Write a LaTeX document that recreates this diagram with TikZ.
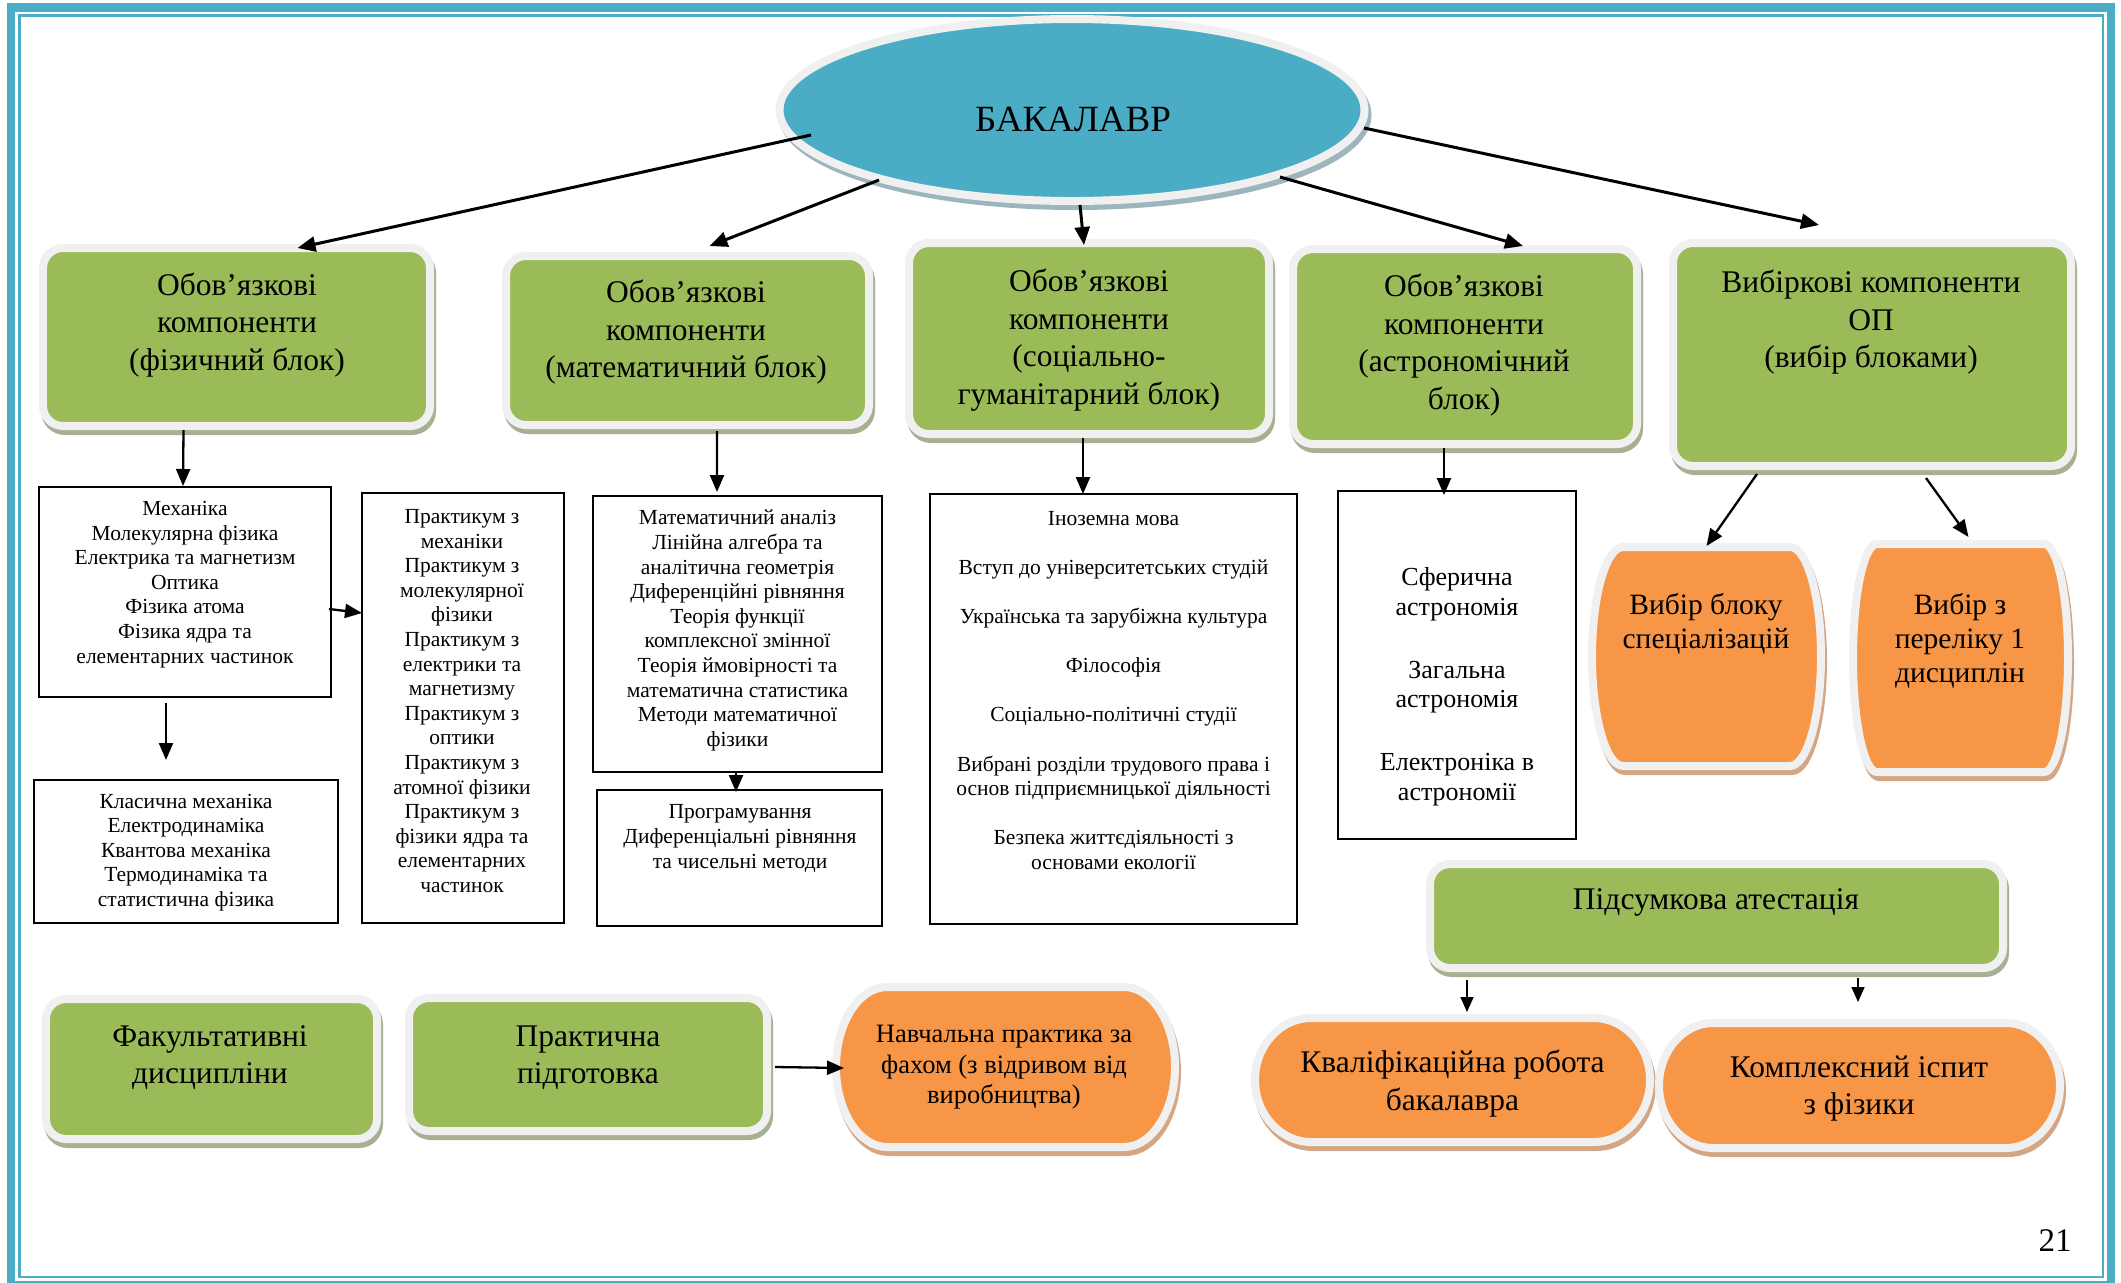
\documentclass[tikz,border=0pt]{standalone}
\usepackage{fontspec}
\setmainfont{Liberation Serif}
\usetikzlibrary{calc,arrows.meta,shapes.geometric}
\definecolor{gfill}{HTML}{9BBB59}
\definecolor{ofill}{HTML}{F79646}
\definecolor{bfill}{HTML}{4BACC6}
\definecolor{rim}{HTML}{F0F0F0}
\definecolor{gshad}{HTML}{A7B093}
\definecolor{oshad}{HTML}{D4A684}
\definecolor{bshad}{HTML}{9DB5BD}
\definecolor{framec}{HTML}{4BACC6}

\newcommand\barrel[6]{% cx cy w h a colourprefix
  \pgfmathsetmacro\bxa{#1-#3/2-4}%
  \pgfmathsetmacro\bxb{#1+#3/2+4}%
  \pgfmathsetmacro\bya{#2-#4/2-4}%
  \pgfmathsetmacro\byb{#2+#4/2+4}%
  \pgfmathsetmacro\bpa{\bxa+#5+4}%
  \pgfmathsetmacro\bpb{\bxb-#5-4}%
  \pgfmathsetmacro\bca{\bpa-0.55*(#5+4)}%
  \pgfmathsetmacro\bcb{\bpb+0.55*(#5+4)}%
  \pgfmathsetmacro\byu{#2-0.55*(#4/2+4)}%
  \pgfmathsetmacro\byd{#2+0.55*(#4/2+4)}%
  \def\bpath{(\bpa,\bya) -- (\bpb,\bya) .. controls (\bcb,\bya) and (\bxb,\byu) .. (\bxb,#2) .. controls (\bxb,\byd) and (\bcb,\byb) .. (\bpb,\byb) -- (\bpa,\byb) .. controls (\bca,\byb) and (\bxa,\byd) .. (\bxa,#2) .. controls (\bxa,\byu) and (\bca,\bya) .. (\bpa,\bya) -- cycle}%
  \path[fill=#6shad, draw=#6shad, line width=8bp, transform canvas={xshift=2bp,yshift=-5bp}] \bpath;
  \path[fill=#6fill, draw=rim, line width=8bp] \bpath;
}

\begin{document}
\begin{tikzpicture}[x=1bp,y=-1bp,
  every node/.style={inner sep=0pt, outer sep=0pt},
  gbox/.style={rectangle, rounded corners=20bp, fill=gfill, draw=rim, line width=8bp,
    preaction={fill=gshad, draw=gshad, line width=8bp, transform canvas={xshift=2bp,yshift=-5bp}}},
  gtxt/.style={align=center, font=\fontsize{31.5bp}{37.5bp}\selectfont},
  otxt/.style={align=center, font=\fontsize{29.5bp}{34bp}\selectfont},
  wbox/.style={rectangle, draw=black, line width=2bp, fill=white},
  wtxt/.style={align=center, font=\fontsize{21.5bp}{24.6bp}\selectfont},
  arr/.style={-{Triangle[length=18bp,width=15bp]}, line width=3bp},
  sarr/.style={-{Triangle[length=17bp,width=14bp]}, line width=2.3bp},
  tarr/.style={-{Triangle[length=15bp,width=13bp]}, line width=1.6bp}]
\useasboundingbox (0,0) rectangle (2121,1282);

% frame
\draw[framec, line width=8.5bp] (11,7.5) rectangle (2111,1285);
\draw[framec, line width=2.5bp] (19.5,15.5) rectangle (2103,1277);

% top ellipse
\node[ellipse, fill=bfill, draw=rim, line width=8bp, minimum width=585bp, minimum height=182bp,
  preaction={fill=bshad, draw=bshad, line width=8bp, transform canvas={xshift=3bp,yshift=-5bp}}] (bak) at (1072,110) {};
\node[font=\fontsize{37bp}{42bp}\selectfont] (bakt) at (1073,119) {БАКАЛАВР};

% green blocks
\node[gbox, minimum width=387bp, minimum height=178bp] (b1) at (236.5,337) {};
\node[gtxt] (b1t) at (237,325) {Обов’язкові\\компоненти\\(фізичний блок)};
\node[gbox, minimum width=363bp, minimum height=169bp] (b2) at (687.5,340.5) {};
\node[gtxt] (b2t) at (686,332.5) {Обов’язкові\\компоненти\\(математичний блок)};
\node[gbox, minimum width=360bp, minimum height=191bp] (b3) at (1089,338.5) {};
\node[gtxt] (b3t) at (1089,340) {Обов’язкові\\компоненти\\(соціально-\\гуманітарний блок)};
\node[gbox, minimum width=344bp, minimum height=195bp] (b4) at (1465,346.5) {};
\node[gtxt] (b4t) at (1464,345) {Обов’язкові\\компоненти\\(астрономічний\\блок)};
\node[gbox, minimum width=398bp, minimum height=223bp] (b5) at (1872,354.5) {};
\node[gtxt] (b5t) at (1871,322.5) {Вибіркові компоненти\\ОП\\(вибір блоками)};
\node[gbox, minimum width=573bp, minimum height=104bp] (P) at (1716.5,916) {};
\node[gtxt] (Pt) at (1716,902) {Підсумкова атестація};
\node[gbox, minimum width=331bp, minimum height=140bp] (fa) at (211.5,1069) {};
\node[gtxt] (fat) at (210,1057.5) {Факультативні\\дисципліни};
\node[gbox, minimum width=358bp, minimum height=133bp] (pr) at (588,1064.5) {};
\node[gtxt] (prt) at (588,1057.5) {Практична\\підготовка};

% white boxes
\node[wbox, minimum width=292bp, minimum height=210bp] (A) at (185,592) {};
\node[wtxt] (At) at (185,584.5) {Механіка\\Молекулярна фізика\\Електрика та магнетизм\\Оптика\\Фізика атома\\Фізика ядра та\\елементарних частинок};
\node[wbox, minimum width=304bp, minimum height=143bp] (B) at (186,851.5) {};
\node[wtxt] (Bt) at (186,852.5) {Класична механіка\\Електродинаміка\\Квантова механіка\\Термодинаміка та\\статистична фізика};
\node[wbox, minimum width=202bp, minimum height=430bp] (C) at (463,708) {};
\node[wtxt] (Ct) at (462,701) {Практикум з\\механіки\\Практикум з\\молекулярної\\фізики\\Практикум з\\електрики та\\магнетизму\\Практикум з\\оптики\\Практикум з\\атомної фізики\\Практикум з\\фізики ядра та\\елементарних\\частинок};
\node[wbox, minimum width=289bp, minimum height=276bp] (D) at (737.5,634) {};
\node[wtxt] (Dt) at (737.5,630.5) {Математичний аналіз\\Лінійна алгебра та\\аналітична геометрія\\Диференційні рівняння\\Теорія функції\\комплексної змінної\\Теорія ймовірності та\\математична статистика\\Методи математичної\\фізики};
\node[wbox, minimum width=285bp, minimum height=136bp] (E) at (739.5,858) {};
\node[wtxt] (Et) at (740,838.5) {Програмування\\Диференціальні рівняння\\та чисельні методи};
\node[wbox, minimum width=367bp, minimum height=430bp] (F) at (1113.5,709) {};
\node[wtxt] (Ft) at (1113.5,690.5) {Іноземна мова\\[24.5bp]Вступ до університетських студій\\[24.5bp]Українська та зарубіжна культура\\[24.5bp]Філософія\\[24.5bp]Соціально-політичні студії\\[24.5bp]Вибрані розділи трудового права і\\основ підприємницької діяльності\\[24.5bp]Безпека життєдіяльності з\\основами екології};
\node[wbox, minimum width=238bp, minimum height=348bp] (G) at (1457,665) {};
\node[wtxt, font=\fontsize{26bp}{29.5bp}\selectfont] (Gt) at (1457,686.5) {Сферична\\астрономія\\[33.5bp]Загальна\\астрономія\\[33.5bp]Електроніка в\\астрономії};

% orange shapes
\barrel{1706.5}{656.5}{221}{211}{27}{o}
\node[minimum width=221bp, minimum height=211bp] (H) at (1706.5,656.5) {};
\node[otxt] (Ht) at (1706,623.5) {Вибір блоку\\спеціалізацій};
\barrel{1960.5}{658}{207}{220}{20}{o}
\node[minimum width=207bp, minimum height=220bp] (I) at (1960.5,658) {};
\node[otxt] (It) at (1960,641) {Вибір з\\переліку 1\\дисциплін};
\barrel{1005.5}{1067}{331}{152}{47}{o}
\node[minimum width=331bp, minimum height=152bp] (N) at (1005.5,1067) {};
\node[otxt, font=\fontsize{26.5bp}{30.5bp}\selectfont] (Nt) at (1004,1067.5) {Навчальна практика за\\фахом (з відривом від\\виробництва)};
\barrel{1452.5}{1080}{387}{116}{52}{o}
\node[minimum width=387bp, minimum height=116bp] (K) at (1452.5,1080) {};
\node[gtxt] (Kt) at (1452.5,1083.5) {Кваліфікаційна робота\\бакалавра};
\barrel{1859.5}{1085.5}{393}{117}{50}{o}
\node[minimum width=393bp, minimum height=117bp] (M) at (1859.5,1085.5) {};
\node[gtxt] (Mt) at (1859,1088.5) {Комплексний іспит\\з фізики};

% connectors
\draw[arr] ($(bak.center)+(-261,25)$) -- ($(b1.north)+(61,0)$);
\draw[arr] ($(bak.center)+(-193,70)$) -- ($(b2.north)+(22,-10)$);
\draw[arr] ($(bak.center)+(8,95)$) -- ($(b3.north)+(-5,2)$);
\draw[arr] ($(bak.center)+(208,67)$) -- ($(b4.north)+(58,-3)$);
\draw[arr] ($(bak.center)+(292,18)$) -- ($(b5.north)+(-53,-18)$);

\draw[sarr] ($(b1.south)+(-53,4)$) -- ($(A.north)+(-2,-1)$);
\draw[sarr] ($(A.south)+(-19,6)$) -- ($(B.north)+(-20,-20)$);
\draw[sarr] ($(A.east)+(-2,17)$) -- ($(C.west)+(0,-95)$);
\draw[sarr] ($(b2.south)+(29.5,6)$) -- ($(D.north)+(-20.5,-4)$);
\draw[sarr] ($(D.south)+(-1.5,0)$) -- ($(E.north)+(-3.5,2)$);
\draw[sarr] ($(b3.south)+(-6,4)$) -- ($(F.north)+(-30.5,0)$);
\draw[sarr] ($(b4.south)+(-21,4)$) -- ($(G.north)+(-13,4)$);
\draw[sarr] ($(b5.south)+(-115,8)$) -- ($(H.north)+(0,-5)$);
\draw[sarr] ($(b5.south)+(54,12)$) -- ($(I.north)+(8,-11)$);
\draw[tarr] ($(P.south)+(-249.5,12)$) -- ($(K.north)+(14.5,-10)$);
\draw[tarr] ($(P.south)+(141.5,10)$) -- ($(M.north)+(-1.5,-25)$);
\draw[sarr] ($(pr.east)+(8,2.5)$) -- ($(N.west)+(4,1)$);

% page number
\node[font=\fontsize{33bp}{36bp}\selectfont] (pg) at (2055,1241) {21};
\end{tikzpicture}
\end{document}
